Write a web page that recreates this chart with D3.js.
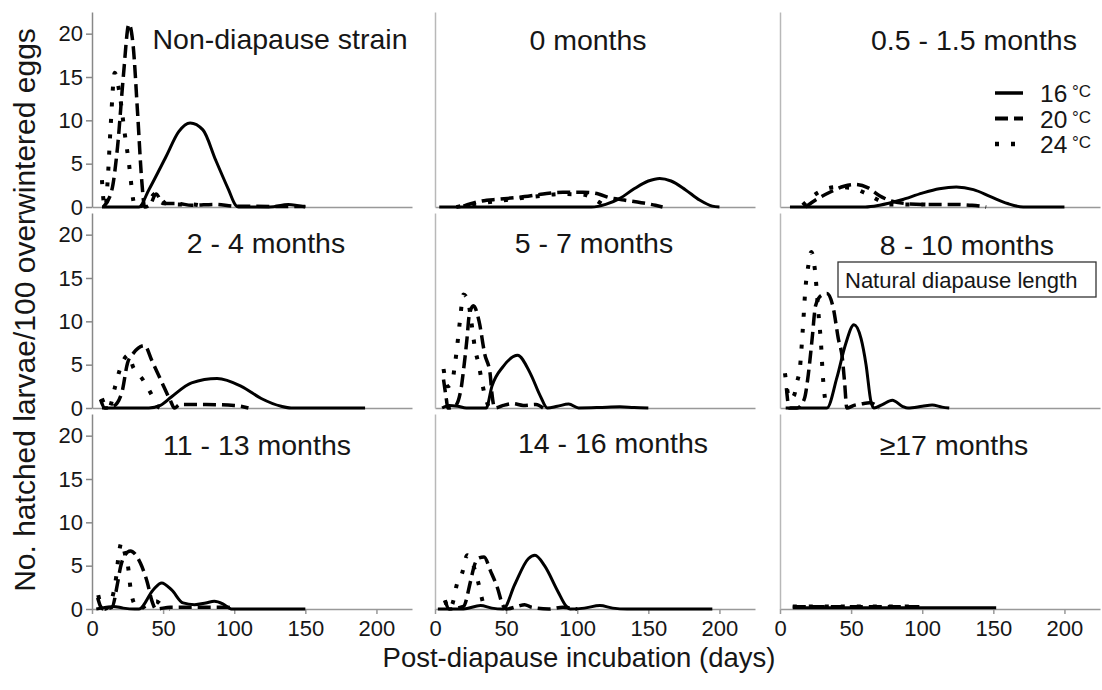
<!DOCTYPE html>
<html>
<head>
<meta charset="utf-8">
<script src="https://cdn.jsdelivr.net/npm/d3@7"></script>
<style>
  body { margin: 0; background: #fff; }
  svg { display: block; }
</style>
</head>
<body>
<script>
// Panel titles (diapause length before incubation)
const panelTitles = ["Non-diapause strain", "0 months", "0.5 - 1.5 months",
    "2 - 4 months", "5 - 7 months", "8 - 10 months",
    "11 - 13 months", "14 - 16 months", "\u226517 months"];

const temps = ["16", "20", "24"];
const yTicks = [0, 5, 10, 15, 20];
const xTicks = [0, 50, 100, 150, 200];

// [day, hatched larvae] per panel, 16 °C
const temp16 = [
    [[7,0],[33,0],[40,2],[52,5.8],[61,8.7],[69,9.7],[78,8.9],[87,5.4],[96,2],[101,0.2],[103,0],[125,0],[138,0.3],[150,0]],
    [[3,0],[110,0],[120,0.3],[130,1],[140,2.1],[150,3.0],[158,3.3],[166,3.0],[176,2.0],[186,0.8],[195,0.1],[200,0]],
    [[7,0],[60,0],[70,0.2],[85,0.8],[100,1.6],[112,2.1],[124,2.3],[136,2.0],[148,1.2],[160,0.4],[171,0],[200,0]],
    [[7,0],[40,0],[48,0.3],[56,1.3],[70,2.9],[88,3.4],[105,2.5],[119,1.1],[133,0.2],[140,0],[192,0]],
    [[5,0],[10,0.3],[16,0.2],[22,0],[36,0],[40,2.5],[48,4.8],[58,6.1],[67,4],[74,1.4],[79,0],[86,0.2],[94,0.45],[101,0],[115,0.05],[130,0.15],[140,0.05],[150,0]],
    [[4,0],[33,0],[40,3.5],[46,7.3],[52,9.6],[57,8],[60.5,5],[64,0.7],[66,0],[72,0.4],[79,0.9],[86,0.2],[90,0],[100,0.2],[107,0.35],[114,0.1],[119,0]],
    [[3,0],[10,0.2],[15,0.3],[22,0.1],[30,0],[33,0],[43,2.2],[49,3],[56,2.2],[64,0.7],[72,0.5],[80,0.7],[86,0.9],[92,0.6],[98,0],[150,0]],
    [[2,0],[20,0],[32,0.4],[40,0.1],[48,0],[56,2.8],[65.6,5.8],[70.3,6.2],[77,5],[86.5,2],[92.4,0.3],[95,0],[105,0.1],[116,0.4],[125,0.1],[135,0],[195,0]],
    [[9,0.15],[152,0.15]]
];

// 20 °C
const temp20 = [
    [[8,0],[14,2],[18,7],[22,15],[26,21.1],[29,18.5],[32,11],[35,3],[37,0],[41,0.3],[45,1.5],[50,0.4],[60,0.4],[70,0.2],[87,0.3],[100,0.1],[150,0.05]],
    [[20,0.1],[33,0.7],[45,0.9],[63,1.2],[76,1.5],[90,1.7],[104,1.7],[115,1.5],[122,1.1],[133,0.8],[145,0.5],[155,0.2],[160,0]],
    [[18,0],[25,0.8],[35,1.7],[45,2.4],[53,2.6],[62,2.2],[70,1.3],[78,0.7],[88,0.4],[100,0.3],[120,0.3],[135,0.2],[145,0]],
    [[6,1],[9,0],[15,0.2],[21,1.8],[25,5.2],[29,6.3],[37,7.2],[42,5.5],[49,3],[55,0.9],[58,0],[62,0.4],[80,0.4],[100,0.3],[110,0]],
    [[6,3.3],[8,1],[9,0],[14,0.2],[18.4,2.3],[20,4.3],[22.5,8],[24,10.6],[27,11.8],[31,10],[35,6.2],[38.7,4],[40,1.7],[42,0],[48,0.3],[55,0.5],[62,0.3],[71,0.4],[76,0]],
    [[4.5,2.3],[6.5,0],[12,0],[17,1],[20,4],[22.6,8],[25,11.8],[29,13],[33,13.2],[37.5,11.5],[41,8],[43.8,5.8],[45.4,3],[47,0],[52,0.3],[58,0.5],[63,0.6],[70,0]],
    [[4,1.3],[6,0.3],[8,0],[14,0.2],[18,3],[20,4.8],[23,6.2],[27,6.7],[34,5.3],[39,3],[42,1],[45,0],[55,0.2],[70,0.2],[95,0.2],[100,0]],
    [[7,1],[10,0],[20,0.3],[25,3.2],[27.6,5],[31,5.9],[34.5,6],[39,4.4],[44,2.4],[47.5,0.5],[50,0],[58,0.3],[63,0.5],[68,0.2],[80,0],[90,0.2],[100,0]],
    [[9,0.25],[98,0.25]]
];

// 24 °C
const temp24 = [
    [[7,3.1],[8.5,0.3],[9.5,0],[11,3],[13,9],[16,15.5],[19,13.5],[23,8.5],[26,5],[29,0.8],[30,0],[38,0.3],[45,1.6],[52,0.4],[62,0.3],[70,0.3],[80,0]],
    [[15,0],[30,0.4],[50,0.8],[70,1.2],[90,1.5],[105,1.4],[112,0.9],[118,0.3],[122,0]],
    [[16,0.2],[27,1.7],[40,2.3],[50,2.2],[60,1.6],[69,0.8],[76,0.3],[85,0.3],[102,0.3],[108,0]],
    [[7,1.1],[10,0.1],[12,0],[16,2.3],[19.5,4.4],[25.5,6.1],[29,4.7],[36,3.2],[42,1.5],[46,0.2],[48,0]],
    [[6,4.5],[9,2.5],[12,3],[14,5],[15.5,7],[17.5,10],[20,13.1],[23,12.5],[25.5,10],[28,7],[31,4.8],[33,3],[35,1.5],[38,0]],
    [[3.5,4],[7,1],[10,1.5],[12,3],[14,4.6],[16,9],[18,14],[20,16.5],[22,18],[24.5,16],[27,11],[29,7],[30,4],[31,2],[33,0]],
    [[4.4,1.6],[7,0.2],[9,0],[13,0.8],[15,1.8],[17,3.7],[18.5,5.9],[20.8,7.7],[23,6.5],[25.5,4.7],[27,2.5],[30,0.5],[33,0],[40,0.6],[45,0.9],[50,0.3],[55,0]],
    [[7,1],[10,0],[13,1],[15,2.6],[19,4.1],[22.7,6.2],[27,5],[30.5,3],[33,1.2],[35,0]],
    [[9,0.3],[98,0.3]]
];

// Layout
const width = 1102, height = 690;
const colX = [92, 435, 780];
const rowBase = [207, 408, 609];
const panelW = 320, panelH = 195;
const titleX = [188, 153, 194, 174, 159, 187, 165, 178, 174];
const titleY = [37, 38, 38, 40, 40, 42, 41, 39, 41];
const textColor = "#161616";

// Line styles per temperature
const styles = {
    "16": { width: 3, dash: null },
    "20": { width: 3.5, dash: "13,6" },
    "24": { width: 4, dash: "4,12" }
};

const svg = d3.select("body")
    .append("svg")
    .attr("width", width)
    .attr("height", height)
    .style("font-family", "'Liberation Sans', Arial, sans-serif");

const x = d3.scaleLinear().domain([0, 225]).range([0, panelW]);
const y = d3.scaleLinear().domain([0, 22.5]).range([panelH, 0]);

const line = d3.line()
    .x(d => x(d[0]))
    .y(d => y(d[1]))
    .curve(d3.curveMonotoneX);

function styleAxis(sel, color) {
    sel.select(".domain").attr("stroke", color).attr("stroke-width", 1.5);
    sel.selectAll(".tick line").attr("stroke", color).attr("stroke-width", 1.5);
    sel.selectAll(".tick text")
        .attr("fill", textColor)
        .style("font-size", "22px");
}

panelTitles.forEach((title, i) => {
    const col = i % 3, row = Math.floor(i / 3);
    const top = rowBase[row] - panelH;
    const g = svg.append("g")
        .attr("transform", `translate(${colX[col]},${top})`);

    // x axis
    const xAxis = d3.axisBottom(x)
        .tickValues(row === 2 ? xTicks : [])
        .tickSize(5)
        .tickSizeOuter(0)
        .tickPadding(6);
    g.append("g")
        .attr("transform", `translate(0,${panelH})`)
        .call(xAxis)
        .call(s => styleAxis(s, "#999"));

    // y axis
    const yAxis = d3.axisLeft(y)
        .tickValues(col === 0 ? yTicks : [])
        .tickSize(6)
        .tickSizeOuter(0)
        .tickPadding(3);
    g.append("g")
        .call(yAxis)
        .call(s => styleAxis(s, col === 0 ? "#888" : "#b8b8b8"));

    // curves: 24 first, solid on top
    [temp24[i], temp20[i], temp16[i]].forEach((pts, k) => {
        const st = styles[temps[2 - k]];
        g.append("path")
            .datum(pts)
            .attr("fill", "none")
            .attr("stroke", "#000")
            .attr("stroke-width", st.width)
            .attr("stroke-dasharray", st.dash)
            .attr("stroke-linejoin", "round")
            .attr("d", line);
    });

    // panel title
    g.append("text")
        .attr("x", titleX[i])
        .attr("y", titleY[i])
        .attr("text-anchor", "middle")
        .attr("fill", textColor)
        .style("font-size", "28.5px")
        .text(title);

    // legend in the third panel
    if (i === 2) {
        temps.forEach((t, k) => {
            const ly = 102 + k * 25.5 - top;
            const st = styles[t];
            g.append("line")
                .attr("x1", 995 - colX[col]).attr("x2", 1023 - colX[col])
                .attr("y1", ly - 9).attr("y2", ly - 9)
                .attr("stroke", "#000")
                .attr("stroke-width", st.width + 0.5)
                .attr("stroke-dasharray", st.dash);
            g.append("text")
                .attr("x", 1040 - colX[col])
                .attr("y", ly)
                .attr("fill", textColor)
                .style("font-size", "24.5px")
                .text(t);
            g.append("text")
                .attr("x", 1072 - colX[col])
                .attr("y", ly - 5)
                .attr("fill", textColor)
                .style("font-size", "17px")
                .text("\u00b0C");
        });
    }

    // boxed note in the 8 - 10 months panel
    if (i === 5) {
        g.append("rect")
            .attr("x", 838 - colX[col]).attr("y", 49)
            .attr("width", 258).attr("height", 35)
            .attr("fill", "#fff")
            .attr("stroke", "#333")
            .attr("stroke-width", 1.3);
        g.append("text")
            .attr("x", 845 - colX[col]).attr("y", 75)
            .attr("fill", textColor)
            .style("font-size", "22px")
            .text("Natural diapause length");
    }
});

// Axis titles
svg.append("text")
    .attr("transform", "translate(35,310) rotate(-90)")
    .attr("text-anchor", "middle")
    .attr("fill", textColor)
    .style("font-size", "30px")
    .text("No. hatched larvae/100 overwintered eggs");

svg.append("text")
    .attr("x", 579)
    .attr("y", 667)
    .attr("text-anchor", "middle")
    .attr("fill", textColor)
    .style("font-size", "27.5px")
    .text("Post-diapause incubation (days)");
</script>
</body>
</html>
